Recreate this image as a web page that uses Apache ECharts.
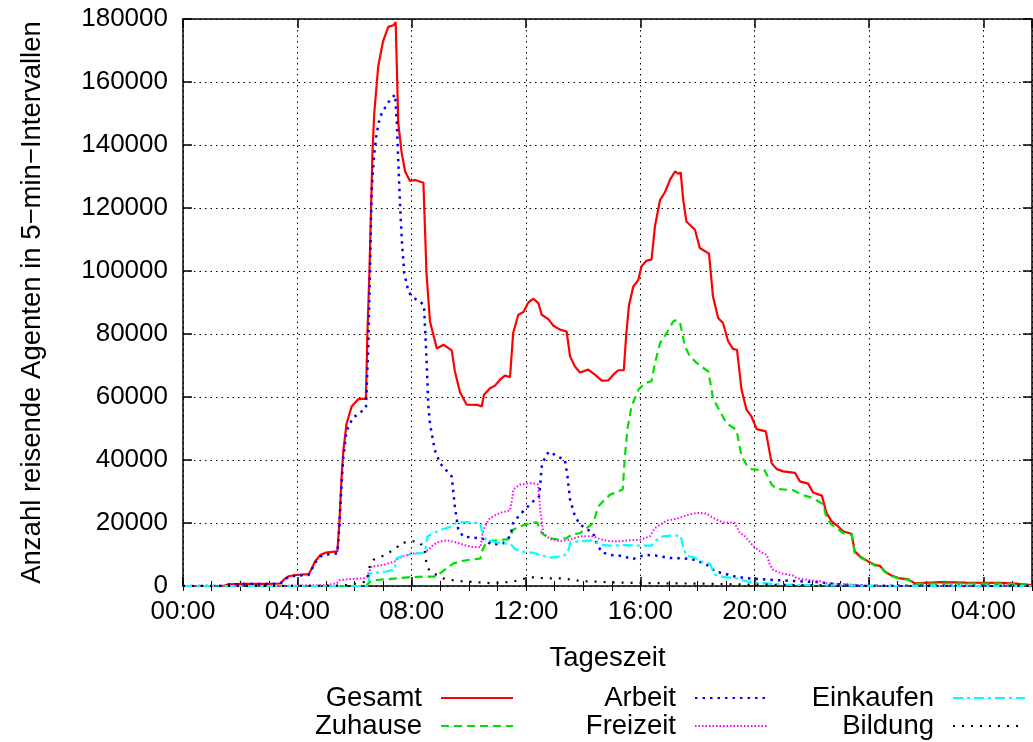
<!DOCTYPE html>
<html><head><meta charset="utf-8">
<script src="https://cdn.jsdelivr.net/npm/echarts@6/dist/echarts.min.js"></script>
<style>html,body{margin:0;padding:0;background:#fff}#c{width:1033px;height:742px}</style>
</head><body><div id="c"></div>
<script>
// [Stunde, Anzahl]
const gesamt = [[0,0],[1.4,0],[1.6,500],[2.0,650],[3.0,700],[3.4,800],[3.55,2200],[3.7,3100],[3.95,3500],[4.4,3800],[4.5,5500],[4.62,7800],[4.8,9800],[5.0,10600],[5.4,11000],[5.47,20000],[5.55,35000],[5.61,43000],[5.72,51500],[5.9,57000],[6.13,59300],[6.4,59500],[6.45,80000],[6.52,99000],[6.63,138000],[6.69,150000],[6.83,165000],[7.0,173000],[7.18,177500],[7.36,178000],[7.44,179000],[7.53,147000],[7.65,137500],[7.77,131600],[7.94,128600],[8.12,128900],[8.41,128000],[8.52,99000],[8.64,84000],[8.88,75400],[9.11,76600],[9.4,74800],[9.51,68200],[9.69,61500],[9.92,57600],[10.3,57500],[10.45,57000],[10.53,60700],[10.74,62800],[10.91,63600],[11.09,65500],[11.26,66800],[11.44,66300],[11.55,80300],[11.73,86100],[11.91,87000],[12.08,90000],[12.26,91200],[12.43,89800],[12.55,86100],[12.78,84700],[12.96,82600],[13.19,81400],[13.42,80800],[13.54,72900],[13.71,69700],[13.89,67800],[14.18,68700],[14.41,67100],[14.65,65200],[14.88,65300],[15.11,67600],[15.23,68500],[15.42,68500],[15.5,79200],[15.6,89000],[15.75,95000],[15.93,97200],[16.04,101500],[16.22,103300],[16.39,103600],[16.51,114200],[16.69,122600],[16.86,125000],[17.04,129000],[17.21,131600],[17.33,130900],[17.41,131300],[17.5,122600],[17.61,115700],[17.91,113100],[18.08,107300],[18.4,105500],[18.54,91900],[18.72,85100],[18.89,83500],[19.07,77700],[19.24,75300],[19.38,75000],[19.54,62300],[19.71,56000],[19.88,53900],[20.07,49800],[20.39,49100],[20.59,39000],[20.77,37100],[21.0,36400],[21.41,35900],[21.58,33200],[21.87,32500],[22.04,29700],[22.35,28700],[22.51,23200],[22.69,20500],[22.92,18900],[23.1,17300],[23.39,16600],[23.5,11000],[23.68,9400],[23.97,7800],[24.21,6700],[24.38,6400],[24.55,4600],[24.79,3300],[25.08,2400],[25.37,2200],[25.6,850],[26.5,1200],[27.4,1100],[28.6,1000],[29.04,850],[29.7,300]];
const zuhause = [[0,0],[6.4,0],[6.54,1400],[6.77,1900],[7.47,2400],[7.94,2800],[8.52,3000],[8.87,3000],[8.99,4000],[9.17,5300],[9.46,7200],[9.8,8000],[10.15,8500],[10.4,8700],[10.48,11500],[10.62,14000],[10.97,14500],[11.4,14900],[11.55,17900],[11.84,19100],[12.14,20000],[12.39,20200],[12.55,16800],[12.78,15200],[13.19,14700],[13.42,15200],[13.59,16300],[13.89,16800],[14.12,18400],[14.35,20000],[14.53,25300],[14.7,26900],[14.94,29000],[15.23,30000],[15.38,30600],[15.46,41200],[15.55,50000],[15.69,57000],[15.93,62300],[16.16,64400],[16.39,65000],[16.51,70800],[16.69,77100],[16.92,80300],[17.15,84000],[17.27,84500],[17.39,83500],[17.56,76100],[17.73,72900],[18.03,70300],[18.38,68100],[18.54,59700],[18.72,56500],[19.01,51700],[19.36,49600],[19.54,41200],[19.71,38500],[19.89,37100],[20.35,36700],[20.59,32200],[20.77,30800],[21.35,30400],[21.64,29000],[21.93,28200],[22.1,27500],[22.4,25900],[22.51,21600],[22.69,19500],[23.1,16800],[23.39,16300],[23.5,10400],[23.74,8800],[24.0,7600],[24.2,6500],[24.4,6200],[24.55,4500],[24.8,3100],[25.1,2200],[25.37,2000],[25.6,700],[26.5,800],[27.5,800],[28.6,750],[29.0,700],[29.7,200]];
const arbeit = [[0,0],[1.4,0],[1.6,450],[2.0,600],[3.0,650],[3.4,700],[3.55,2000],[3.7,2900],[3.95,3300],[4.4,3500],[4.5,5200],[4.62,7400],[4.8,9300],[5.0,10000],[5.4,10300],[5.47,19000],[5.55,33000],[5.61,41000],[5.72,49100],[5.93,53300],[6.2,55100],[6.4,56500],[6.48,75400],[6.54,99300],[6.6,125600],[6.68,136300],[6.77,143500],[6.89,148900],[7.07,151900],[7.24,154300],[7.42,156000],[7.48,147100],[7.54,132800],[7.6,119600],[7.66,108900],[7.74,99300],[7.89,93300],[8.06,91500],[8.29,90300],[8.43,89100],[8.52,71800],[8.58,57500],[8.64,51500],[8.81,43100],[8.99,39000],[9.22,36600],[9.4,34800],[9.51,25200],[9.63,18000],[9.8,15700],[10.04,15500],[10.33,15200],[10.51,14900],[10.8,13100],[11.21,13600],[11.44,15800],[11.55,20000],[11.78,22600],[12.02,24800],[12.31,27400],[12.46,28500],[12.55,38000],[12.7,41700],[12.84,42700],[13.07,41200],[13.36,40100],[13.45,34800],[13.54,27400],[13.71,22200],[13.89,19500],[14.12,18100],[14.35,16800],[14.47,13600],[14.65,10700],[14.94,9900],[15.29,9600],[15.75,8600],[15.99,9400],[16.22,9900],[16.57,9600],[17.04,8900],[17.5,8800],[17.85,8400],[18.2,7300],[18.43,6200],[18.61,4600],[18.89,4100],[19.24,3100],[19.71,2500],[20.18,2200],[20.88,1800],[21.58,1500],[22.28,1200],[22.6,800],[23.3,300],[24.0,100],[25,100],[29.7,100]];
const freizeit = [[0,0],[3.4,0],[3.6,100],[5.0,300],[5.38,850],[5.49,1900],[5.84,2200],[6.31,2400],[6.43,2800],[6.54,5100],[6.6,6200],[7.0,6700],[7.41,7800],[7.53,8800],[7.59,9400],[7.94,10200],[8.41,10600],[8.58,11500],[8.76,13100],[8.99,14200],[9.23,14500],[9.57,13800],[9.92,12800],[10.27,12300],[10.41,12300],[10.48,16800],[10.56,18900],[10.74,21600],[11.09,23200],[11.44,24000],[11.53,28500],[11.55,30600],[11.79,32200],[12.19,32700],[12.42,32200],[12.51,23200],[12.6,16800],[12.84,14900],[13.19,14200],[13.54,14700],[13.89,15800],[14.35,15800],[14.58,14900],[14.94,14200],[15.29,14200],[15.64,14500],[15.99,14700],[16.34,15800],[16.51,18400],[16.57,18900],[16.92,20800],[17.27,21300],[17.61,22500],[17.96,23200],[18.31,23000],[18.54,21600],[18.89,20200],[19.3,20000],[19.48,16800],[19.66,15800],[19.95,12600],[20.3,10300],[20.42,9900],[20.53,6800],[20.65,5000],[21.0,3900],[21.35,3300],[21.47,2500],[21.93,1800],[22.28,1500],[22.51,850],[23.33,500],[23.9,100],[24.5,0],[29.7,0]];
const einkaufen = [[0,0],[6.43,0],[6.49,1900],[6.54,4000],[7.12,4600],[7.41,5300],[7.47,8800],[7.71,9600],[8.06,10200],[8.46,10600],[8.55,15700],[8.76,16800],[9.11,18100],[9.4,18900],[9.57,20200],[9.92,20300],[10.39,20000],[10.48,16800],[10.6,14700],[10.97,13800],[11.38,13400],[11.5,13000],[11.6,11800],[11.79,11000],[12.25,10500],[12.6,9600],[12.9,9000],[13.3,9500],[13.45,10400],[13.56,13900],[13.89,14200],[14.35,14500],[14.58,13100],[14.94,12800],[15.5,13000],[15.99,12800],[16.39,12800],[16.57,14700],[16.8,15800],[17.04,16000],[17.41,16000],[17.5,12100],[17.61,9600],[17.85,9200],[18.2,7500],[18.43,7100],[18.61,3600],[18.89,2900],[19.36,2400],[19.71,1500],[20.07,1000],[21.12,400],[22.3,200],[23.5,100],[24.5,0],[29.7,0]];
const bildung = [[0,0],[5.5,100],[5.72,300],[6.43,1400],[6.54,6700],[6.66,8300],[7.0,9600],[7.47,12000],[7.59,13600],[8.06,14200],[8.23,14200],[8.46,12000],[8.52,6700],[8.64,4600],[9.11,2400],[9.57,1600],[10.27,1200],[10.85,850],[11.55,1400],[12.14,2800],[12.72,2400],[13.3,2400],[13.89,1600],[14.35,1400],[15.5,1000],[16.5,900],[17.5,800],[18.5,700],[19.5,500],[20.5,400],[21.5,300],[22.5,200],[23.5,100],[24.5,0],[29.7,0]];

const seriesNames = ['Gesamt','Zuhause','Arbeit','Freizeit','Einkaufen','Bildung'];
const seriesData = [gesamt, zuhause, arbeit, freizeit, einkaufen, bildung];
const xTickHours = [0,4,8,12,16,20,24,28];
const yTicks = [0,20000,40000,60000,80000,100000,120000,140000,160000,180000];

const FONT = 'Liberation Sans, Arial, Helvetica, sans-serif';
const FS = 26;     // tick labels
const FT = 27.5;   // titles, legend
const styles = [
  {color:'#ff0000', type:'solid', width:2.2},
  {color:'#00e000', type:[8,5], width:2.2},
  {color:'#0000ff', type:[2.5,5], width:2.5},
  {color:'#ff00ff', type:[1.5,2], width:2},
  {color:'#00ffff', type:[10,4,3,4], width:2.2},
  {color:'#000000', type:[2,7], width:2.2}
];
const XMAX = 29.7;
const hh = v => { const h = ((Math.round(v)%24)+24)%24; return (h<10?'0':'')+h+':00'; };

const chart = echarts.init(document.getElementById('c'), null, {renderer:'canvas'});
const gridLine = {show:true, lineStyle:{color:'#000', type:[1.5,4], width:1}};
const border = {show:true, onZero:false, lineStyle:{color:'#000', width:1.5}};
const legendPos = [
  {right:519, top:684},{right:519, top:712},
  {right:265, top:684},{right:265, top:712},
  {right:7, top:684},{right:7, top:712}
];
chart.setOption({
  animation:false,
  backgroundColor:'#fff',
  grid:{left:183, right:1, top:19, bottom:156, containLabel:false},
  legend: seriesNames.map((n,i)=>({
    data:[n], right:legendPos[i].right, top:legendPos[i].top, padding:0,
    align:'right', itemWidth:72, itemHeight:14, selectedMode:false,
    itemStyle:{opacity:0},
    textStyle:{fontSize:FT, fontFamily:FONT, color:'#000', padding:[0,14,0,0]}
  })),
  xAxis:[
    {type:'value', min:0, max:XMAX, interval:4, position:'bottom',
     name:'Tageszeit', nameLocation:'middle', nameGap:58,
     nameTextStyle:{fontSize:FT, fontFamily:FONT, color:'#000'},
     axisLine:border, axisTick:{show:true, inside:true, length:9, lineStyle:{color:'#000', width:1.5}},
     axisLabel:{show:true, margin:13, fontSize:FS, fontFamily:FONT, color:'#000', showMaxLabel:false,
       formatter: v => xTickHours.indexOf(v) >= 0 ? hh(v) : ''},
     splitLine:gridLine},
    {type:'value', min:0, max:XMAX, interval:1, position:'bottom', gridIndex:0,
     axisLine:{show:false}, axisTick:{show:true, inside:true, length:5, lineStyle:{color:'#000', width:1}},
     axisLabel:{show:false}, splitLine:{show:false}},
    {type:'value', min:0, max:XMAX, interval:4, position:'top',
     axisLine:border, axisTick:{show:true, inside:true, length:9, lineStyle:{color:'#000', width:1.5}},
     axisLabel:{show:false}, splitLine:{show:false}},
    {type:'value', min:0, max:XMAX, interval:1, position:'top',
     axisLine:{show:false}, axisTick:{show:true, inside:true, length:5, lineStyle:{color:'#000', width:1}},
     axisLabel:{show:false}, splitLine:{show:false}}
  ],
  yAxis:[
    {type:'value', min:0, max:180000, interval:20000, position:'left',
     name:'Anzahl reisende Agenten in 5\u2212min\u2212Intervallen', nameLocation:'middle', nameGap:137,
     nameTextStyle:{fontSize:FT, fontFamily:FONT, color:'#000'},
     axisLine:border, axisTick:{show:true, inside:true, length:9, lineStyle:{color:'#000', width:1.5}},
     axisLabel:{show:true, margin:15, fontSize:FS, fontFamily:FONT, color:'#000',
       formatter: v => yTicks.indexOf(v) >= 0 ? String(v) : ''},
     splitLine:gridLine},
    {type:'value', min:0, max:180000, interval:20000, position:'right',
     axisLine:border, axisTick:{show:true, inside:true, length:9, lineStyle:{color:'#000', width:1.5}},
     axisLabel:{show:false}, splitLine:{show:false}}
  ],
  series: seriesNames.map((n,i)=>({
    name:n, type:'line', xAxisIndex:0, yAxisIndex:0, data:seriesData[i],
    symbol:'none', showSymbol:false, smooth:false, silent:true,
    lineStyle:styles[i], itemStyle:{color:styles[i].color},
    emphasis:{disabled:true}
  }))
});
</script></body></html>
